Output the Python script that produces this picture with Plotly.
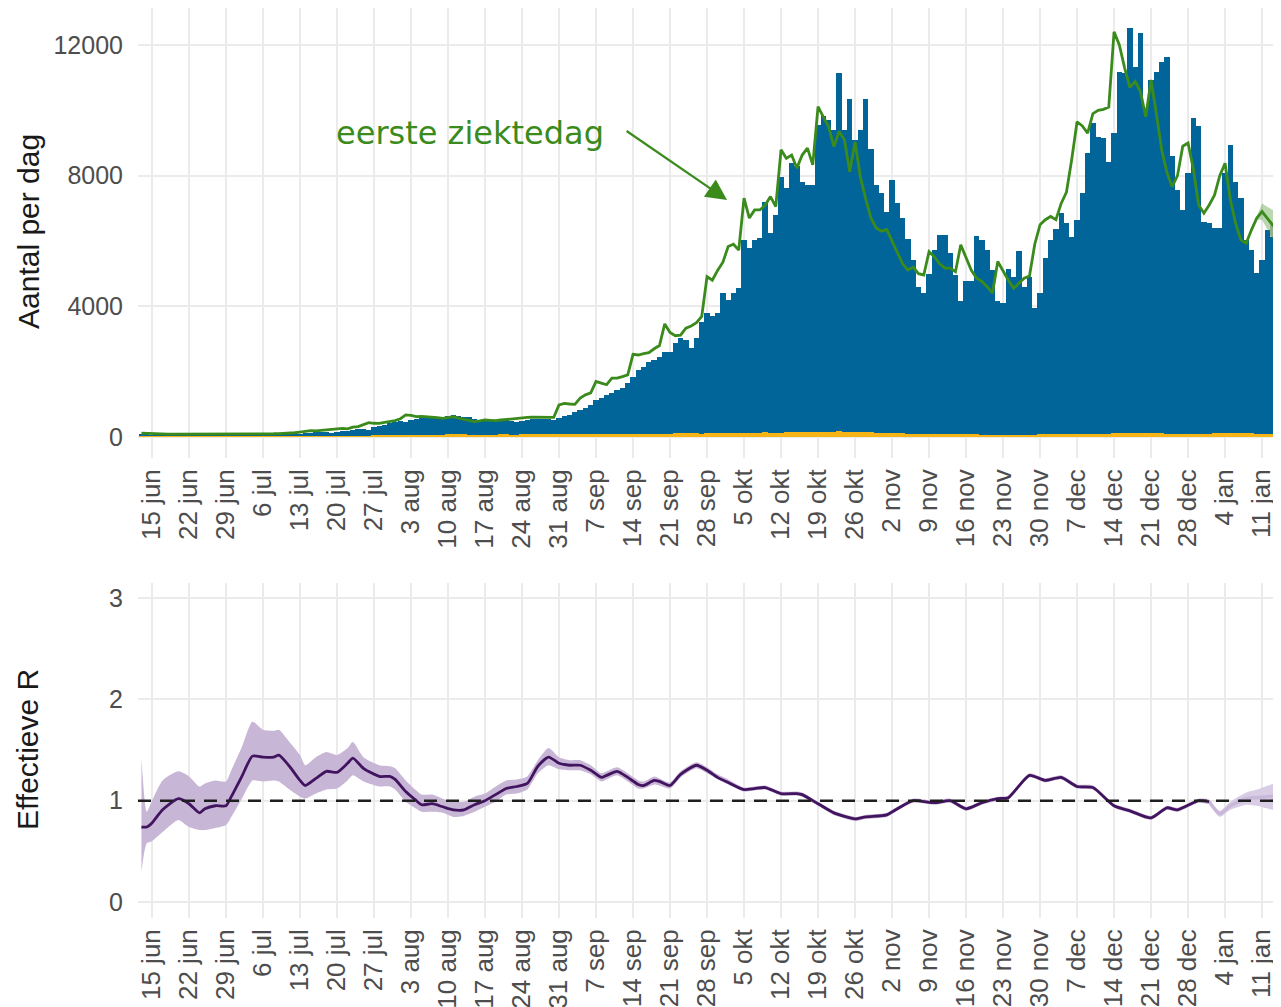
import plotly.graph_objects as go
import pandas as pd

# ---------------- data ----------------
start_date = "2020-06-13"

# blue bars: positive tests per day (13 jun 2020 - 15 jan 2021)
blue = [100, 80,
        70, 60, 80, 70, 80, 70, 50,
        50, 60, 50, 60, 60, 50, 40,
        50, 50, 60, 60, 70, 60, 50,
        70, 80, 80, 90, 100, 90, 80,
        100, 110, 130, 140, 150, 140, 130,
        160, 170, 190, 220, 250, 230, 200,
        300, 330, 380, 420, 470, 500, 450,
        520, 560, 600, 620, 600, 580, 560,
        640, 680, 650, 620, 600, 560, 520,
        500, 480, 500, 520, 520, 500, 470,
        500, 520, 540, 560, 560, 540, 520,
        580, 630, 680, 780, 830, 880, 980,
        1130, 1180, 1290, 1340, 1440, 1490, 1640,
        1850, 2050, 2150, 2300, 2360, 2460, 2610,
        2610, 2870, 3020, 2970, 2720, 3020, 3530,
        3790, 3690, 3790, 4400, 4200, 4400, 4550,
        6030, 5780, 6030, 6080, 7200, 6240, 6800,
        7970, 7610, 8400, 8300, 7820, 7720, 7720,
        9550, 9830, 9700, 9400, 11130, 9400, 10340,
        9090, 9400, 10340, 8810, 7720, 7480, 6900,
        7870, 7150, 6700, 6050, 5420, 4600, 4400,
        5000, 5730, 6190, 6190, 5620, 4960, 4150,
        4760, 4760, 6150, 6030, 5730, 5110, 4150,
        4100, 5130, 4910, 5680, 4600, 4910, 3950,
        4400, 5470, 6030, 6360, 6850, 6540, 6130,
        6640, 7460, 8680, 9600, 9190, 9140, 8430,
        9300, 11180, 11130, 12510, 11340, 12380, 10010,
        10930, 11180, 11490, 11640, 8600, 7560, 6950,
        8070, 9750, 9520, 6590, 6540, 6390, 6390,
        8090, 8940, 7820, 7310, 6030, 5730, 5010,
        5420, 6340, 6120, 4560, 1040]

# yellow bars (small series at the bottom)
yellow = [6, 6,
          6, 6, 6, 6, 6, 6, 6,
          6, 6, 6, 6, 6, 6, 6,
          6, 6, 6, 6, 6, 6, 6,
          6, 6, 10, 10, 10, 10, 10,
          10, 10, 15, 15, 15, 15, 15,
          20, 20, 25, 25, 30, 30, 30,
          38, 42, 48, 52, 58, 58, 58,
          62, 68, 74, 74, 74, 68, 68,
          78, 84, 84, 78, 74, 74, 68,
          68, 74, 74, 78, 78, 74, 74,
          78, 78, 84, 84, 84, 78, 78,
          84, 84, 90, 90, 90, 84, 84,
          90, 90, 95, 95, 95, 90, 90,
          95, 100, 100, 105, 105, 100, 100,
          105, 110, 110, 115, 115, 110, 105,
          115, 120, 120, 125, 125, 120, 115,
          125, 130, 135, 135, 140, 135, 130,
          135, 140, 145, 145, 150, 145, 140,
          155, 160, 165, 165, 170, 160, 155,
          150, 145, 145, 140, 135, 130, 125,
          120, 115, 110, 105, 100, 95, 95,
          95, 90, 90, 85, 85, 85, 78,
          78, 78, 78, 74, 74, 74, 74,
          74, 74, 74, 74, 74, 74, 74,
          78, 78, 84, 84, 84, 90, 90,
          95, 95, 100, 100, 105, 105, 105,
          110, 115, 115, 120, 120, 115, 115,
          115, 110, 110, 105, 105, 100, 100,
          100, 100, 105, 105, 105, 110, 110,
          115, 120, 125, 120, 115, 110, 105,
          105, 105, 100, 95, 50]

# green line: eerste ziektedag
green = [120, 110,
         100, 95, 90, 90, 85, 85, 90,
         90, 90, 85, 85, 80, 80, 80,
         80, 80, 85, 85, 85, 85, 90,
         90, 95, 100, 105, 110, 120, 130,
         150, 170, 195, 190, 205, 215, 230,
         240, 266, 250, 300, 320, 380, 440,
         420, 419, 450, 480, 501, 560, 674,
         660, 623, 630, 623, 600, 590, 572,
         600, 623, 580, 541, 500, 470, 490,
         521, 510, 501, 520, 540, 551, 570,
         602, 600, 605, 600, 590, 600, 600,
         980, 1030, 1010, 1000, 1190, 1290, 1350,
         1700, 1650, 1600, 1800, 1800, 1850, 1900,
         2530, 2510, 2550, 2580, 2700, 2800, 3460,
         3200, 3100, 3120, 3330, 3400, 3500, 3690,
         4910, 4800, 5100, 5350, 5830, 5900, 5720,
         7310, 6700, 6950, 6950, 7100, 7360, 7050,
         8790, 8530, 8630, 8230, 8630, 8840, 8330,
         10110, 9800, 9500, 8890, 9350, 9090, 8120,
         9040, 7970, 7300, 6700, 6400, 6300, 6350,
         6000, 5700, 5300, 5110, 5200, 5000, 4960,
         5670, 5520, 5300, 5170, 5170, 5060, 5880,
         5500, 5100, 4860, 4760, 4600, 4400, 5370,
         5060, 4800, 4550, 4700, 4860, 4930, 5900,
         6500, 6650, 6750, 6650, 7150, 7500, 8500,
         9650, 9520, 9300, 9900, 10000, 10030, 10100,
         12400, 12000, 11300, 10700, 10880, 10570, 9800,
         10930, 9900, 8800, 8100, 7660, 8000, 8900,
         9000, 8200, 7100, 6850, 7100, 7400, 8000,
         8380, 7260, 6540, 6030, 5930, 6340, 6700,
         6900, 6700, 6490, 6340, 6900]

# grey (incomplete) bars, last days: total height
grey_dates = ["2021-01-13", "2021-01-14", "2021-01-15"]
grey_total = [6490, 6450, 5500]

# uncertainty band around the green line at the end
gband_dates = ["2021-01-10", "2021-01-11", "2021-01-12", "2021-01-13", "2021-01-14", "2021-01-15"]
gband_lo = [6650, 6650, 6350, 6050, 5800, 6250]
gband_hi = [6750, 7150, 7050, 6950, 6900, 7550]

# effective R (solid part)
r_dates = ["2020-06-13", "2020-06-14", "2020-06-15", "2020-06-17", "2020-06-20", "2020-06-22",
           "2020-06-24", "2020-06-25", "2020-06-27", "2020-06-29", "2020-06-30", "2020-07-02",
           "2020-07-04", "2020-07-06", "2020-07-08", "2020-07-09", "2020-07-11", "2020-07-13",
           "2020-07-14", "2020-07-16", "2020-07-18", "2020-07-20", "2020-07-22", "2020-07-23",
           "2020-07-25", "2020-07-28", "2020-07-30", "2020-07-31", "2020-08-02", "2020-08-04",
           "2020-08-05", "2020-08-07", "2020-08-09", "2020-08-11", "2020-08-13", "2020-08-15",
           "2020-08-17", "2020-08-19", "2020-08-21", "2020-08-23", "2020-08-25", "2020-08-27",
           "2020-08-29", "2020-08-31", "2020-09-02", "2020-09-04", "2020-09-06", "2020-09-08",
           "2020-09-09", "2020-09-11", "2020-09-13", "2020-09-15", "2020-09-16", "2020-09-18",
           "2020-09-19", "2020-09-21", "2020-09-23", "2020-09-26", "2020-09-28", "2020-09-30",
           "2020-10-02", "2020-10-05", "2020-10-07", "2020-10-09", "2020-10-12", "2020-10-15",
           "2020-10-16", "2020-10-19", "2020-10-22", "2020-10-26", "2020-10-28", "2020-11-01",
           "2020-11-03", "2020-11-06", "2020-11-10", "2020-11-13", "2020-11-16", "2020-11-19",
           "2020-11-22", "2020-11-24", "2020-11-28", "2020-12-01", "2020-12-04", "2020-12-07",
           "2020-12-10", "2020-12-14", "2020-12-17", "2020-12-21", "2020-12-24", "2020-12-26",
           "2020-12-30", "2021-01-01"]
r_mid = [0.74, 0.74, 0.78, 0.91, 1.02, 0.97,
         0.88, 0.92, 0.95, 0.95, 1.04, 1.24,
         1.44, 1.43, 1.43, 1.45, 1.34, 1.20,
         1.15, 1.22, 1.29, 1.28, 1.37, 1.42,
         1.32, 1.24, 1.24, 1.21, 1.09, 1.00,
         0.96, 0.97, 0.94, 0.91, 0.91, 0.96,
         1.00, 1.06, 1.12, 1.14, 1.17, 1.34,
         1.43, 1.37, 1.35, 1.35, 1.30, 1.23,
         1.25, 1.29, 1.23, 1.16, 1.15, 1.20,
         1.19, 1.15, 1.26, 1.35, 1.30, 1.23,
         1.18, 1.11, 1.12, 1.13, 1.07, 1.07,
         1.06, 0.97, 0.88, 0.82, 0.84, 0.86,
         0.92, 1.00, 0.98, 1.00, 0.92, 0.98,
         1.02, 1.03, 1.25, 1.20, 1.23, 1.14,
         1.13, 0.95, 0.90, 0.83, 0.93, 0.91,
         1.00, 0.99]
r_lo = [0.30, 0.58, 0.60, 0.69, 0.81, 0.74,
        0.71, 0.71, 0.73, 0.76, 0.84, 1.02,
        1.20, 1.19, 1.20, 1.19, 1.11, 1.04,
        1.02, 1.07, 1.11, 1.12, 1.20, 1.25,
        1.19, 1.14, 1.14, 1.11, 0.99, 0.92,
        0.89, 0.89, 0.88, 0.84, 0.85, 0.89,
        0.94, 0.99, 1.06, 1.07, 1.11, 1.27,
        1.35, 1.31, 1.30, 1.30, 1.26, 1.19,
        1.21, 1.25, 1.19, 1.12, 1.12, 1.16,
        1.15, 1.12, 1.23, 1.32, 1.27, 1.21,
        1.16, 1.09, 1.10, 1.11, 1.05, 1.05,
        1.04, 0.95, 0.86, 0.80, 0.82, 0.84,
        0.90, 0.98, 0.96, 0.98, 0.90, 0.96,
        1.00, 1.01, 1.23, 1.18, 1.21, 1.12,
        1.11, 0.93, 0.88, 0.81, 0.91, 0.89,
        0.98, 0.97]
r_hi = [1.42, 0.89, 1.00, 1.20, 1.29, 1.24,
        1.14, 1.17, 1.20, 1.19, 1.30, 1.53,
        1.78, 1.70, 1.69, 1.70, 1.58, 1.45,
        1.35, 1.43, 1.48, 1.45, 1.52, 1.58,
        1.43, 1.35, 1.34, 1.32, 1.20, 1.10,
        1.06, 1.06, 1.02, 0.99, 0.99, 1.04,
        1.07, 1.14, 1.20, 1.21, 1.24, 1.40,
        1.52, 1.43, 1.40, 1.40, 1.35, 1.27,
        1.29, 1.33, 1.27, 1.20, 1.19, 1.24,
        1.22, 1.18, 1.29, 1.38, 1.33, 1.26,
        1.21, 1.13, 1.14, 1.15, 1.09, 1.09,
        1.08, 0.99, 0.90, 0.84, 0.86, 0.88,
        0.94, 1.02, 1.00, 1.02, 0.94, 1.00,
        1.04, 1.05, 1.27, 1.22, 1.25, 1.16,
        1.15, 0.97, 0.92, 0.85, 0.95, 0.93,
        1.02, 1.01]

# effective R, uncertain last part (light)
r_late_dates = ["2021-01-01", "2021-01-03", "2021-01-05", "2021-01-08", "2021-01-10", "2021-01-14"]
r_late_mid = [0.99, 0.87, 0.95, 1.02, 1.03, 1.05]
r_late_lo = [0.97, 0.84, 0.91, 0.96, 0.95, 0.91]
r_late_hi = [1.01, 0.90, 0.99, 1.08, 1.11, 1.17]

month_nl = {1: "jan", 6: "jun", 7: "jul", 8: "aug", 9: "sep", 10: "okt", 11: "nov", 12: "dec"}
tick_dates = pd.date_range("2020-06-15", "2021-01-11", freq="7D")
tick_text = [f"{d.day} {month_nl[d.month]}" for d in tick_dates]

dates = pd.date_range(start_date, periods=len(blue), freq="D")

# ---------------- styles ----------------
BLUE = "#01659A"
YELLOW = "#F7B416"
GREY = "#C4C4C4"
GREEN = "#3B8B1C"
PURPLE = "#42145F"
PURPLE_BAND = "#C7B6D6"
LIGHT_LINE = "#C9B8DA"
LIGHT_BAND = "#D9CDE5"
GRID = "#EBEBEB"
TICKC = "#4D4D4D"
FONT = "Liberation Sans, Arial, sans-serif"
DAY = 86400000

fig = go.Figure()

fig.add_trace(go.Bar(x=pd.to_datetime(grey_dates), y=grey_total, marker=dict(color=GREY, line=dict(width=0)),
                     width=DAY * 1.02, xaxis="x", yaxis="y", showlegend=False))
fig.add_trace(go.Bar(x=dates, y=blue, marker=dict(color=BLUE, line=dict(width=0)),
                     width=DAY * 1.02, xaxis="x", yaxis="y", showlegend=False))
fig.add_trace(go.Bar(x=dates, y=yellow, marker=dict(color=YELLOW, line=dict(width=0)),
                     width=DAY * 1.02, xaxis="x", yaxis="y", showlegend=False))

gb_x = list(pd.to_datetime(gband_dates)) + list(pd.to_datetime(gband_dates))[::-1]
gb_y = gband_hi + gband_lo[::-1]
fig.add_trace(go.Scatter(x=gb_x, y=gb_y, fill="toself", fillcolor="rgba(59,139,28,0.35)",
                         line=dict(width=0), mode="lines", xaxis="x", yaxis="y", showlegend=False,
                         hoverinfo="skip"))
fig.add_trace(go.Scatter(x=dates, y=green, mode="lines", line=dict(color=GREEN, width=2.8),
                         xaxis="x", yaxis="y", showlegend=False))

# R panel
rd = list(pd.to_datetime(r_dates))
fig.add_trace(go.Scatter(x=rd + rd[::-1], y=r_hi + r_lo[::-1], fill="toself", fillcolor=PURPLE_BAND,
                         line=dict(width=0, shape="spline", smoothing=0.6), mode="lines",
                         xaxis="x2", yaxis="y2", showlegend=False, hoverinfo="skip"))
rl = list(pd.to_datetime(r_late_dates))
fig.add_trace(go.Scatter(x=rl + rl[::-1], y=r_late_hi + r_late_lo[::-1], fill="toself", fillcolor=LIGHT_BAND,
                         line=dict(width=0, shape="spline", smoothing=0.6), mode="lines",
                         xaxis="x2", yaxis="y2", showlegend=False, hoverinfo="skip"))
fig.add_trace(go.Scatter(x=rl, y=r_late_mid, mode="lines",
                         line=dict(color=LIGHT_LINE, width=3.5, shape="spline", smoothing=0.6),
                         xaxis="x2", yaxis="y2", showlegend=False))
fig.add_trace(go.Scatter(x=rd, y=r_mid, mode="lines",
                         line=dict(color=PURPLE, width=2.8, shape="spline", smoothing=0.6),
                         xaxis="x2", yaxis="y2", showlegend=False))

# ---------------- layout ----------------
OFF = 8                       # page offset of the figure (body margin)
W, H = 1281 - OFF, 1007 - OFF
PLOT_LEFT = 138               # page x of plot left edge
L = PLOT_LEFT - OFF
px_per_day = 5.286
t0 = pd.Timestamp("2020-06-15") - pd.Timedelta(days=(152 - PLOT_LEFT) / px_per_day)
t1 = t0 + pd.Timedelta(days=(1281 - PLOT_LEFT) / px_per_day)


def py(page_y):
    return 1 - (page_y - OFF) / H


def px(page_x):
    return (page_x - PLOT_LEFT) / (W - L)


xcommon = dict(range=[t0, t1], tickmode="array", tickvals=list(tick_dates), ticktext=tick_text,
               tickangle=-90, tickfont=dict(family=FONT, size=26, color=TICKC),
               showgrid=True, gridcolor=GRID, gridwidth=2, zeroline=False, showline=False,
               ticks="", ticklabelstandoff=5, automargin=False, fixedrange=True)

fig.update_layout(
    width=W, height=H,
    margin=dict(l=L, r=0, t=0, b=0),
    paper_bgcolor="white", plot_bgcolor="white",
    barmode="overlay", bargap=0,
    xaxis=dict(domain=[0, 1], anchor="y", **xcommon),
    xaxis2=dict(domain=[0, 1], anchor="y2", **xcommon),
    yaxis=dict(domain=[py(458), py(8)], anchor="x", range=[-643, 13131],
               tickmode="array", tickvals=[0, 4000, 8000, 12000], ticktext=["0", "4000", "8000", "12000"],
               tickfont=dict(family=FONT, size=25, color=TICKC), showgrid=True, gridcolor=GRID,
               gridwidth=2, zeroline=False, showline=False, ticks="", ticklabelstandoff=14,
               automargin=False, fixedrange=True),
    yaxis2=dict(domain=[py(918), py(583)], anchor="x2", range=[-0.158, 3.149],
                tickmode="array", tickvals=[0, 1, 2, 3], ticktext=["0", "1", "2", "3"],
                tickfont=dict(family=FONT, size=25, color=TICKC), showgrid=True, gridcolor=GRID,
                gridwidth=2, zeroline=False, showline=False, ticks="", ticklabelstandoff=14,
                automargin=False, fixedrange=True),
    showlegend=False,
)

fig.add_shape(type="line", xref="x2", yref="y2", x0=t0, x1=t1, y0=1, y1=1,
              line=dict(color="#1E1E1E", width=2.6, dash="13px,9px"), layer="above")

fig.add_annotation(text="Aantal per dag", xref="paper", yref="paper", x=px(28), y=py(232),
                   textangle=-90, showarrow=False, xanchor="center", yanchor="middle",
                   font=dict(family=FONT, size=30, color="#1A1A1A"))
fig.add_annotation(text="Effectieve R", xref="paper", yref="paper", x=px(27), y=py(750),
                   textangle=-90, showarrow=False, xanchor="center", yanchor="middle",
                   font=dict(family=FONT, size=30, color="#1A1A1A"))

fig.add_annotation(text="eerste ziektedag", xref="x", yref="y",
                   x=pd.Timestamp("2020-08-14 05:00"), y=9305, showarrow=False,
                   xanchor="center", yanchor="middle",
                   font=dict(family="DejaVu Sans, Verdana, sans-serif", size=32, color=GREEN))
fig.add_annotation(text="", xref="x", yref="y", axref="x", ayref="y",
                   x=pd.Timestamp("2020-10-01 19:00"), y=7254,
                   ax=pd.Timestamp("2020-09-12 12:00"), ay=9397,
                   showarrow=True, arrowhead=2, arrowsize=1.9, arrowwidth=2.2, arrowcolor=GREEN, standoff=0)

fig.write_html("out.html")
